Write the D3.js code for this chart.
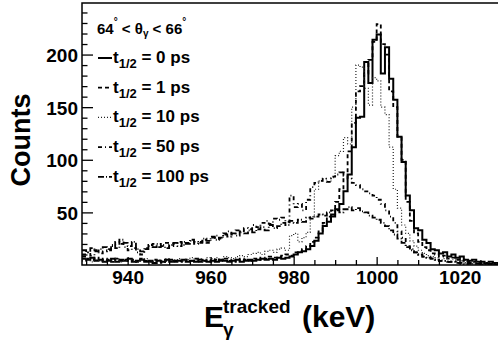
<!DOCTYPE html>
<html><head><meta charset="utf-8">
<script src="https://cdn.jsdelivr.net/npm/d3@7"></script>
<style>
html,body{margin:0;padding:0;background:#fff;}
svg text{font-family:"Liberation Sans",Arial,sans-serif;font-weight:bold;fill:#000;}
</style></head>
<body>
<svg id="c" width="498" height="341"></svg>
<script>
// Histogram bins: 1 keV wide, first bin starts at 929 keV
const binStart = 929;
const binWidth = 1;

const legendText = ["= 0 ps","= 1 ps","= 10 ps","= 50 ps","= 100 ps"];

const h0ps = [
 6,5,7,4,5,3,4,6,3,5,4,
 6,3,4,5,3,4,2,4,3,5,
 3,4,4,5,3,4,3,5,4,3,
 4,3,5,4,3,4,5,3,4,5,
 4,5,6,5,6,5,7,6,7,8,
 10,12,13,15,18,23,30,37,41,46,
 53,58,70,86,112,140,141,193,173,214,
 219,182,207,177,157,122,98,66,52,35,
 33,24,21,15,14,11,12,8,10,7,
 8,5,4,5,3,3,2,3,2,1
];
const h1ps = [
 8,6,5,7,4,6,5,3,6,4,5,
 4,5,3,6,4,3,5,4,2,4,
 5,3,4,3,5,4,6,3,4,5,
 3,5,4,6,4,5,3,6,5,4,
 6,5,7,6,8,7,8,9,10,9,
 12,13,15,18,22,26,32,40,46,52,
 60,72,88,108,135,165,170,182,195,212,
 229,210,200,165,150,122,100,60,42,30,
 22,17,14,11,10,8,9,6,7,5,
 4,5,3,3,2,3,2,1,2,1
];
const h10ps = [
 4,6,3,5,4,3,5,4,6,3,4,
 5,4,3,5,6,4,3,5,4,6,
 4,5,6,4,5,7,5,6,5,7,
 6,7,5,8,7,6,8,9,8,10,
 11,12,10,13,14,12,15,16,14,28,
 30,22,26,31,46,72,80,82,79,83,
 104,108,121,115,150,190,188,168,152,178,
 175,150,143,112,72,54,38,30,23,18,
 14,11,9,8,7,5,6,4,5,3,
 4,3,2,3,2,1,2,1,1,1
];
const h50ps = [
 10,12,9,14,11,13,15,18,22,20,17,
 14,16,12,10,15,18,20,17,19,21,
 18,20,22,19,21,23,20,22,24,21,
 26,28,25,30,32,29,33,31,35,34,
 38,36,40,42,39,44,43,45,41,66,
 55,58,52,62,74,78,80,82,79,84,
 86,88,85,82,78,76,72,70,68,66,
 62,58,52,46,40,32,26,18,15,12,
 10,8,7,6,5,4,4,3,3,2,
 2,2,1,1,1,1,0,1,0,0
];
const h100ps = [
 14,12,16,13,15,17,14,19,16,24,21,
 18,22,15,13,16,19,17,20,18,16,
 19,21,18,22,20,24,22,21,25,23,
 27,24,26,29,27,30,28,32,30,33,
 31,34,36,33,38,35,37,40,38,42,
 40,43,41,45,44,46,48,47,50,48,
 52,50,53,55,52,54,51,50,47,45,
 43,40,37,33,29,25,21,17,14,12,
 10,8,7,6,5,4,4,3,3,2,
 2,1,2,1,1,0,1,0,0,0
];

const xMajor = [940,960,980,1000,1020];
const yMajor = [50,100,150,200];

const series = [
 {data:h0ps,  width:2,   dash:null,          color:"#000"},
 {data:h1ps,  width:1.8, dash:"4,3",         color:"#000"},
 {data:h10ps, width:1.2, dash:"1,2",         color:"#222"},
 {data:h50ps, width:1.8, dash:"4,3,1,3",     color:"#000"},
 {data:h100ps,width:1.8, dash:"6,2,1,2",     color:"#000"}
];

const svg = d3.select("#c");
const L = 82, T = 3, B = 265, R = 501.15;
const x = d3.scaleLinear().domain([929, 1030]).range([L, R]);
const y = d3.scaleLinear().domain([0, 249]).range([B, T]);

svg.append("defs").append("clipPath").attr("id","clip")
  .append("rect").attr("x",L).attr("y",T).attr("width",R-L).attr("height",B-T);

const line = d3.line().x(d=>x(d[0])).y(d=>y(d[1])).curve(d3.curveStepAfter);
const gPlot = svg.append("g").attr("clip-path","url(#clip)");
series.forEach(s=>{
  const pts = s.data.map((v,i)=>[binStart+i*binWidth, v]);
  pts.push([binStart+s.data.length*binWidth, s.data[s.data.length-1]]);
  gPlot.append("path").attr("d",line(pts)).attr("fill","none")
    .attr("stroke",s.color).attr("stroke-width",s.width)
    .attr("stroke-dasharray",s.dash);
});

// axes
const yMinor = d3.range(10,250,10).filter(v=>!yMajor.includes(v));
const gy = svg.append("g").attr("transform",`translate(${L},0)`);
gy.call(d3.axisLeft(y).tickValues(yMinor).tickSize(-5.5).tickFormat(""));
gy.call(g=>g.select(".domain").remove());
const gy2 = svg.append("g").attr("transform",`translate(${L},0)`);
gy2.call(d3.axisLeft(y).tickValues(yMajor).tickSize(-11).tickPadding(4).tickFormat(d3.format("d")));
gy2.select(".domain").remove();
gy2.selectAll("text").attr("font-size",19).attr("font-family",null).attr("dy","0.36em");

const xMinor = d3.range(930,1031,5).filter(v=>!xMajor.includes(v));
const gx = svg.append("g").attr("transform",`translate(0,${B})`);
gx.call(d3.axisBottom(x).tickValues(xMinor).tickSize(-5).tickFormat(""));
gx.select(".domain").remove();
const gx2 = svg.append("g").attr("transform",`translate(0,${B})`);
gx2.call(d3.axisBottom(x).tickValues(xMajor).tickSize(-8).tickPadding(5.5).tickFormat(d3.format("d")));
gx2.select(".domain").remove();
gx2.selectAll("text").attr("font-size",19).attr("font-family",null);
svg.selectAll("g.tick line").attr("stroke","#000").attr("stroke-width",1.3);

// frame
svg.append("path").attr("d",`M${R},${T}H${L}V${B}H${R}`).attr("fill","none")
  .attr("stroke","#000").attr("stroke-width",1.5);

// axis titles
svg.append("text").attr("transform","translate(30,140) rotate(-90)")
  .attr("text-anchor","middle").attr("font-size",27).text("Counts");
svg.append("text").attr("x",204).attr("y",327).attr("font-size",30).text("E");
svg.append("text").attr("x",223).attr("y",336).attr("font-size",19).text("γ");
svg.append("text").attr("x",223).attr("y",313).attr("font-size",19).text("tracked");
svg.append("text").attr("x",302).attr("y",327).attr("font-size",30).text("(keV)");

// legend header
const hd = svg.append("text").attr("x",97).attr("y",34).attr("font-size",15);
hd.append("tspan").text("64");
hd.append("tspan").attr("font-size",10).attr("dy",-9).text("°");
hd.append("tspan").attr("dy",9).text(" < θ");
hd.append("tspan").attr("font-size",10).attr("dy",3).text("γ");
hd.append("tspan").attr("dy",-3).text(" < 66");
hd.append("tspan").attr("font-size",10).attr("dy",-9).text("°");

// legend entries
series.forEach((s,i)=>{
  const base = 63 + i*29.7;
  svg.append("line").attr("x1",98).attr("x2",112).attr("y1",base-5).attr("y2",base-5)
    .attr("stroke",s.color).attr("stroke-width",s.width).attr("stroke-dasharray",s.dash);
  const t = svg.append("text").attr("x",113).attr("y",base).attr("font-size",17);
  t.append("tspan").text("t");
  t.append("tspan").attr("font-size",13).attr("dy",5).text("1/2");
  t.append("tspan").attr("dy",-5).text(" " + legendText[i]);
});
</script>
</body></html>
